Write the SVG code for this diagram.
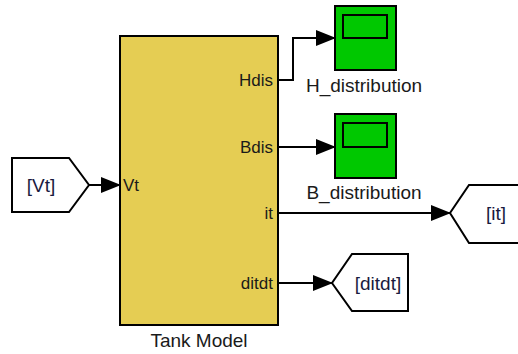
<svg xmlns="http://www.w3.org/2000/svg" width="518" height="354" viewBox="0 0 518 354">
<defs>
<marker id="ah" markerWidth="20" markerHeight="16" refX="19" refY="8" orient="auto" markerUnits="userSpaceOnUse">
<path d="M0,0 L20,8 L0,16 Z" fill="#000"/>
</marker>
<style>
.port{font-family:"Liberation Sans",Arial,sans-serif;font-size:17px;fill:#1a1a1a}
.name{font-family:"Liberation Sans",Arial,sans-serif;font-size:19px;fill:#1a1a1a}
.tag{font-family:"Liberation Sans",Arial,sans-serif;font-size:19px;fill:#1a1a40}
.blk{stroke:#000;stroke-width:2}
.wire{fill:none;stroke:#000;stroke-width:2}
</style>
</defs>
<rect width="518" height="354" fill="#fff"/>
<g id="connectors">
<path class="wire" d="M89,185 L120,185" marker-end="url(#ah)"/>
<path class="wire" d="M278,80 L293,80 L293,38 L335,38" marker-end="url(#ah)"/>
<path class="wire" d="M278,147 L335,147" marker-end="url(#ah)"/>
<path class="wire" d="M278,213 L450,213" marker-end="url(#ah)"/>
<path class="wire" d="M278,283 L332,283" marker-end="url(#ah)"/>
</g>
<g id="from_Vt">
<path class="blk" d="M12,158 L69,158 L89,185 L69,212 L12,212 Z" fill="#fff"/>
<text class="tag" x="41" y="192" text-anchor="middle">[Vt]</text>
</g>
<g id="tank_model">
<rect class="blk" x="120" y="36" width="158" height="289" fill="#E5CD53"/>
<text class="port" x="123" y="191">Vt</text>
<text class="port" x="273" y="86" text-anchor="end">Hdis</text>
<text class="port" x="273" y="153" text-anchor="end">Bdis</text>
<text class="port" x="273" y="219" text-anchor="end">it</text>
<text class="port" x="273" y="289" text-anchor="end">ditdt</text>
<text class="name" x="199" y="347" text-anchor="middle">Tank Model</text>
</g>
<g id="H_distribution">
<rect class="blk" x="335" y="6" width="61" height="64" fill="#00C800"/>
<rect class="blk" x="343" y="15" width="44" height="23" fill="#00C800"/>
<text class="name" x="364" y="92" text-anchor="middle">H_distribution</text>
</g>
<g id="B_distribution">
<rect class="blk" x="335" y="114" width="61" height="64" fill="#00C800"/>
<rect class="blk" x="343" y="123" width="44" height="24" fill="#00C800"/>
<text class="name" x="364" y="199" text-anchor="middle">B_distribution</text>
</g>
<g id="goto_it">
<path class="blk" d="M520,185 L469,185 L450,213 L469,243 L520,243" fill="#fff"/>
<text class="tag" x="496" y="220" text-anchor="middle">[it]</text>
</g>
<g id="goto_ditdt">
<path class="blk" d="M352,254 L408,254 L408,311 L352,311 L332,283 Z" fill="#fff"/>
<text class="tag" x="378" y="290" text-anchor="middle">[ditdt]</text>
</g>
</svg>
